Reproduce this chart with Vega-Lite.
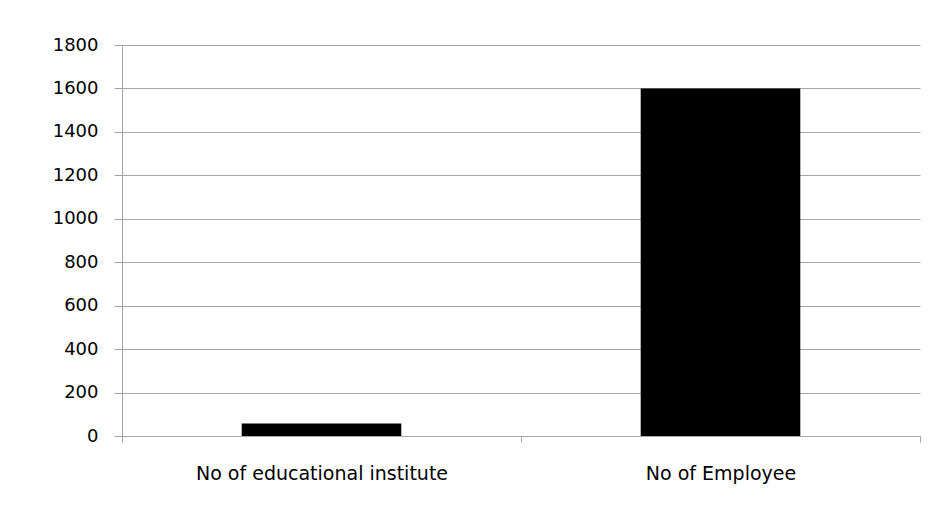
{
  "$schema": "https://vega.github.io/schema/vega-lite/v6.json",
  "width": 798,
  "height": 391,
  "autosize": {"type": "none"},
  "padding": {"left": 122, "top": 45, "right": 23, "bottom": 73},
  "background": "white",
  "data": {"values": [
    {"category": "No of educational institute", "value": 58},
    {"category": "No of Employee", "value": 1600}
  ]},
  "mark": {"type": "bar", "color": "black", "width": {"band": 0.4}},
  "encoding": {
    "x": {
      "field": "category", "type": "nominal", "sort": null,
      "scale": {"paddingInner": 0, "paddingOuter": 0},
      "axis": {
        "title": null, "labelAngle": 0, "tickBand": "extent",
        "domainColor": "#a6a6a6", "tickColor": "#a6a6a6", "tickSize": 6,
        "labelFont": "DejaVu Sans", "labelFontSize": 19, "labelColor": "#000000",
        "labelPadding": 22, "labelLimit": 0, "grid": false
      }
    },
    "y": {
      "field": "value", "type": "quantitative",
      "scale": {"domain": [0, 1800]},
      "axis": {
        "title": null, "values": [0,200,400,600,800,1000,1200,1400,1600,1800],
        "format": "d",
        "domainColor": "#a6a6a6", "tickColor": "#a6a6a6", "tickSize": 8,
        "gridColor": "#a6a6a6", "grid": true,
        "labelFont": "DejaVu Sans", "labelFontSize": 18, "labelColor": "#000000",
        "labelPadding": 16
      }
    }
  },
  "config": {"view": {"stroke": null}}
}
